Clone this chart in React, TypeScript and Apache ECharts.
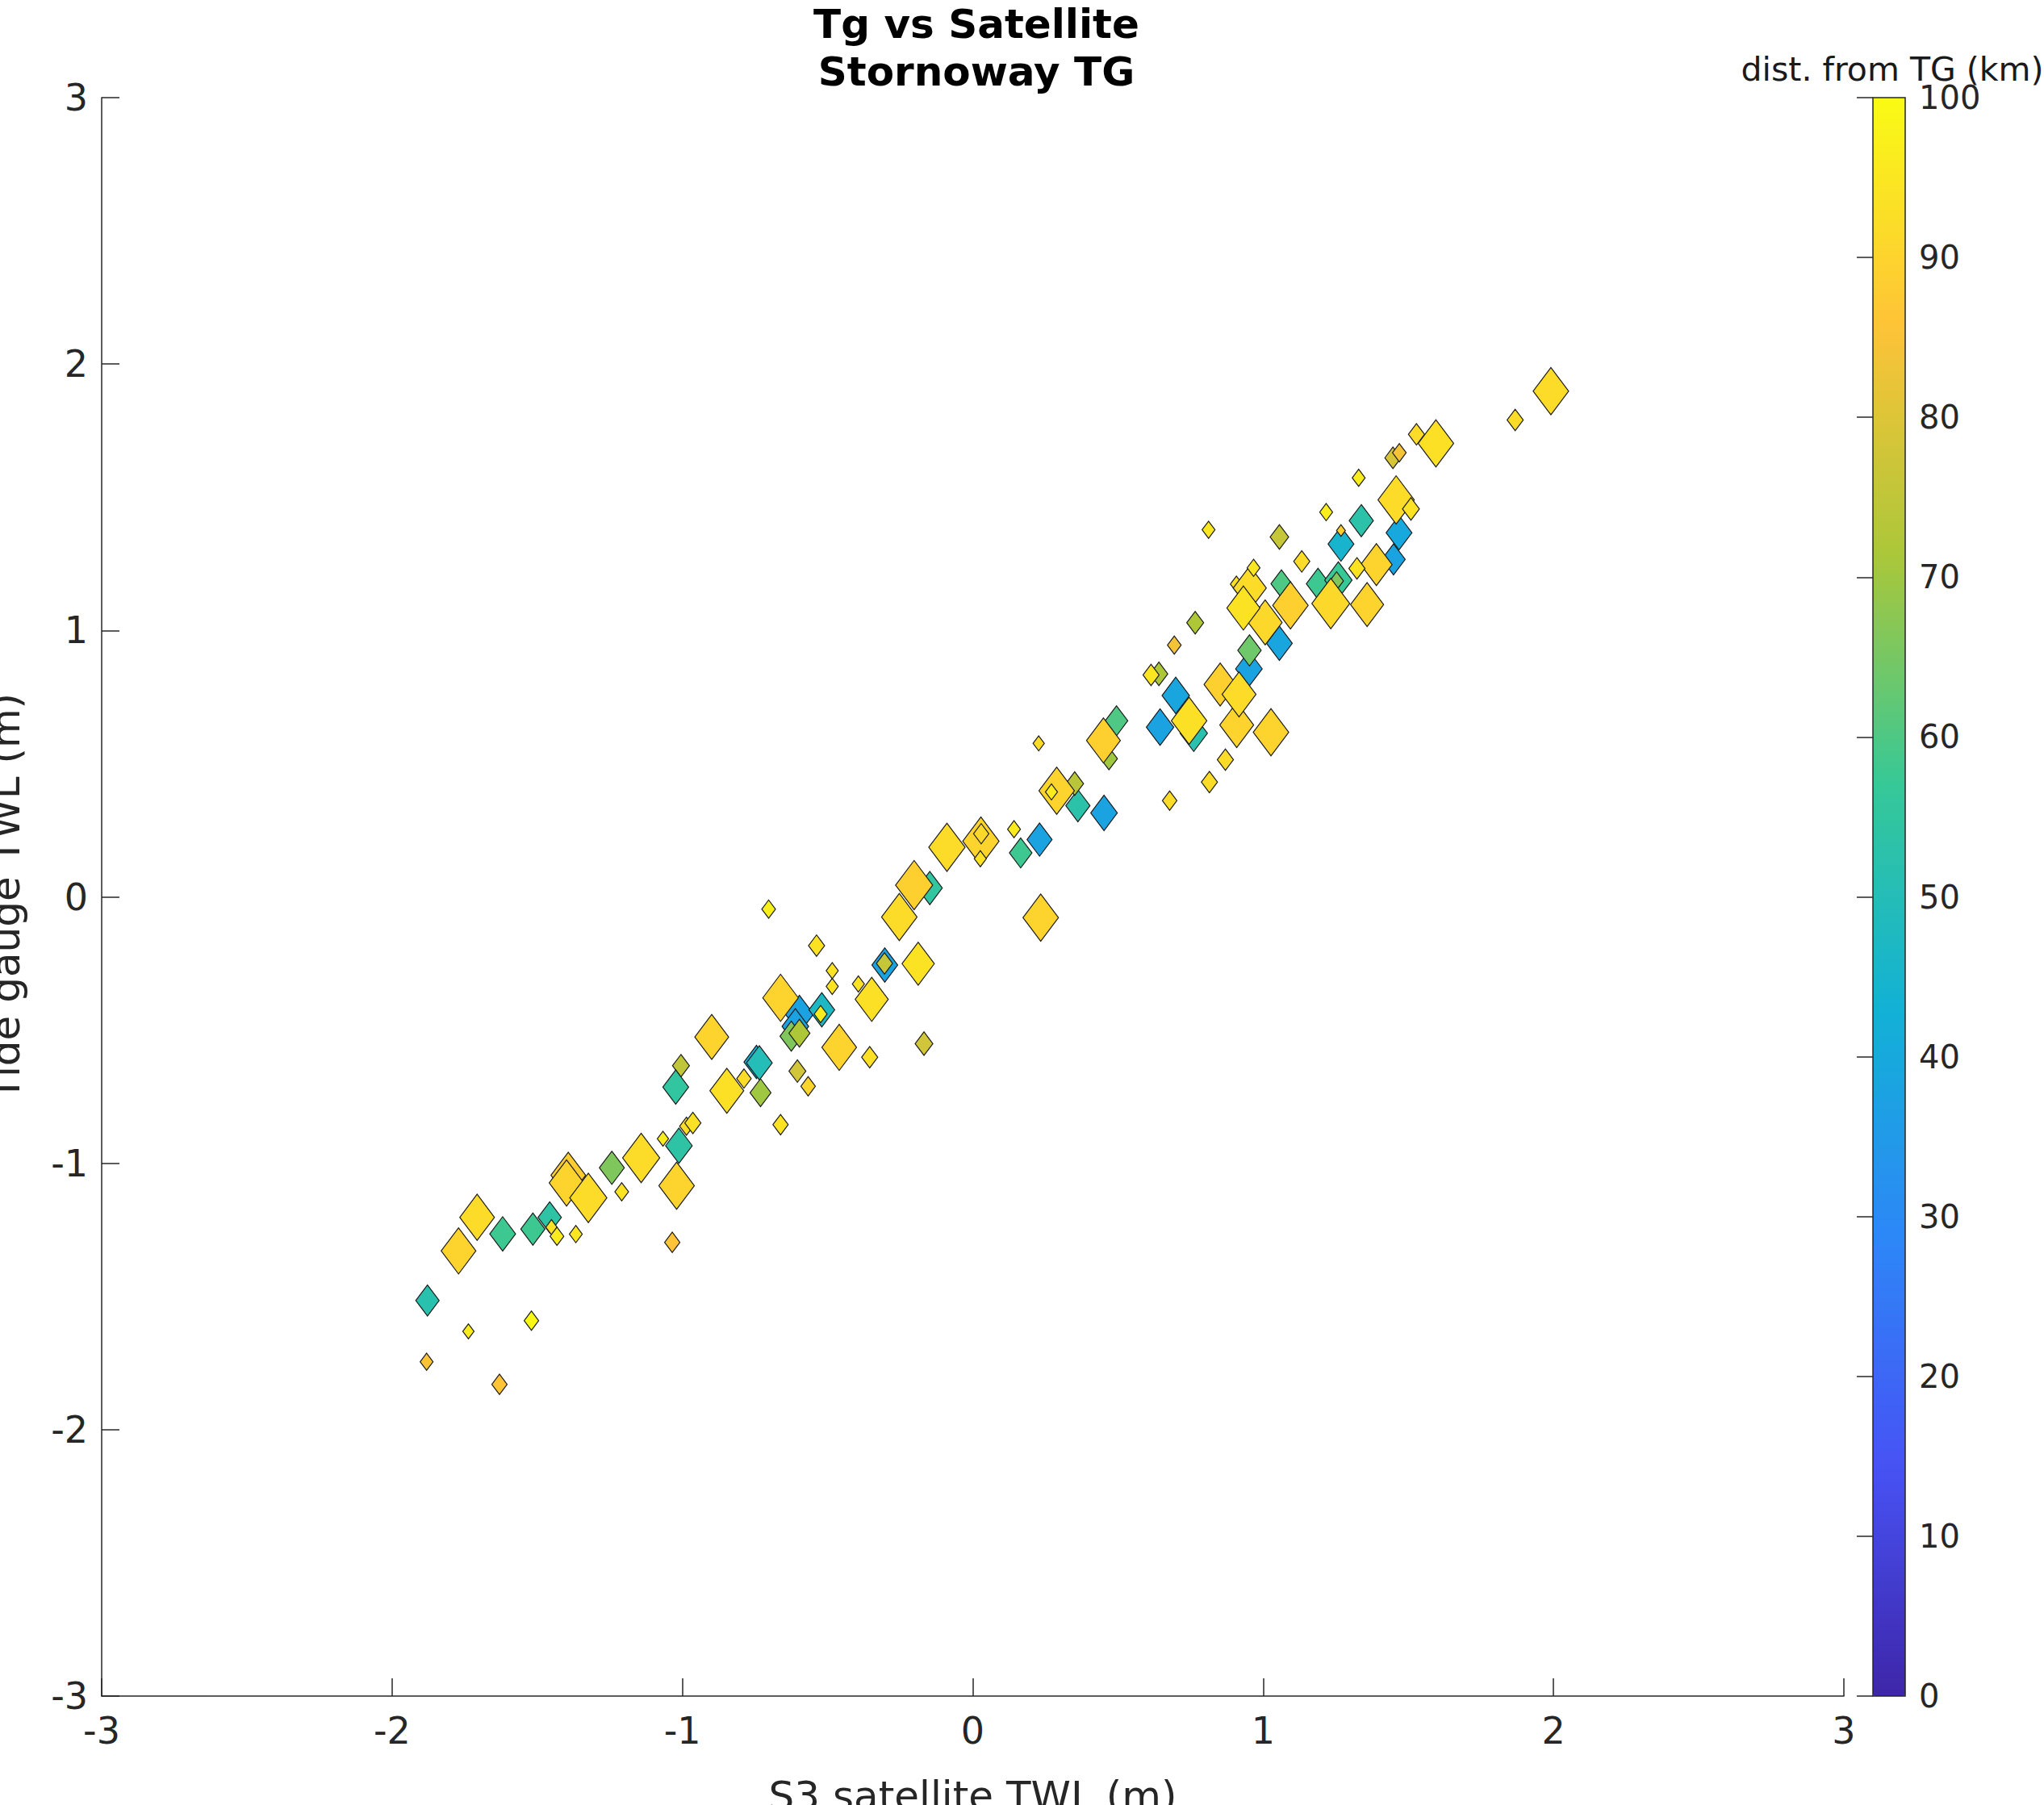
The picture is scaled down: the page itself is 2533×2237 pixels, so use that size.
import React, { useEffect, useRef } from 'react';
import * as echarts from 'echarts';

// listed in drawing order (later ones sit on top)
const s3Twl = [
  -1.878, -1.881, -1.737, -1.63, -1.52, -1.771, -1.707, -1.619, -1.515, -1.457, -1.451, -1.432, -1.367,
  -1.393, -1.399, -1.324, -1.243, -1.209, -1.142, -1.067, -1.012, -1.02, -1.035, -0.986, -0.964, -1.005,
  -1.023, -0.899, -0.847, -0.788, -0.731, -0.662, -0.745, -0.735, -0.604, -0.567, -0.597, -0.611, -0.625,
  -0.597, -0.662, -0.52, -0.524, -0.46, -0.355, -0.348, -0.394, -0.484, -0.484, -0.538, -0.703, -0.303,
  -0.304, -0.188, -0.168, -0.253, -0.148, -0.202, -0.089, 0.028, 0.029, 0.026, 0.142, 0.165, 0.23, 0.227,
  0.362, 0.351, 0.289, 0.271, 0.452, 0.234, 0.495, 0.469, 0.45, 0.645, 0.761, 0.699, 0.745, 0.678, 0.815,
  0.87, 0.909, 1.027, 0.852, 0.951, 0.953, 0.917, 0.641, 0.614, 0.694, 0.766, 0.812, 1.056, 1.133, 1.056,
  0.908, 0.954, 0.967, 1.007, 0.932, 1.063, 1.094, 1.189, 1.259, 1.253, 1.233, 1.358, 1.449, 1.468, 1.39,
  1.323, 1.268, 1.268, 1.338, 1.217, 1.458, 1.509, 1.329, 1.447, 1.469, 1.528, 1.595, 1.868, 1.991,
];
const tgTwl = [
  -1.515, -1.745, -1.631, -1.83, -1.591, -1.329, -1.203, -1.265, -1.247, -1.203, -1.24, -1.274, -1.266,
  -1.045, -1.074, -1.13, -1.017, -1.107, -0.98, -0.908, -0.934, -1.084, -1.297, -0.861, -0.849, -0.634,
  -0.714, -0.526, -0.728, -0.682, -0.735, -0.855, -0.62, -0.623, -0.654, -0.711, -0.44, -0.486, -0.523,
  -0.512, -0.379, -0.424, -0.44, -0.565, -0.602, -0.385, -0.327, -0.336, -0.277, -0.183, -0.046, -0.256,
  -0.25, -0.251, -0.551, -0.076, 0.033, 0.044, 0.186, 0.209, 0.237, 0.143, 0.254, 0.165, 0.215, 0.576,
  0.342, 0.425, 0.398, 0.394, 0.315, -0.078, 0.661, 0.519, 0.587, 0.637, 0.614, 0.756, 0.661, 0.361, 0.431,
  0.515, 0.645, 0.618, 0.797, 0.856, 0.925, 0.76, 0.837, 0.833, 0.945, 1.029, 1.378, 1.351, 1.259, 0.952,
  1.174, 1.159, 1.235, 1.03, 1.084, 1.175, 1.094, 1.175, 1.189, 1.186, 1.101, 1.097, 1.267, 1.367, 1.247,
  1.233, 1.324, 1.375, 1.412, 1.444, 1.49, 1.456, 1.573, 1.648, 1.667, 1.736, 1.702, 1.79, 1.898,
];
const distKm = [
  52, 85, 96, 86, 99, 90, 92, 58, 58, 54, 94, 96, 95,
  88, 90, 92, 66, 94, 92, 96, 54, 90, 86, 92, 93, 75,
  55, 90, 93, 92, 70, 94, 41, 50, 78, 90, 38, 38, 66,
  72, 90, 47, 96, 90, 93, 93, 94, 94, 94, 94, 97, 38,
  76, 94, 78, 92, 55, 89, 92, 90, 91, 94, 96, 58, 38, 92,
  53, 74, 90, 96, 38, 90, 60, 70, 89, 38, 52, 39, 93, 92, 92,
  92, 90, 90, 89, 38, 64, 92, 72, 95, 84, 72, 95, 76, 92, 39,
  93, 92, 95, 91, 94, 60, 89, 58, 57, 66, 91, 90, 38, 40, 90,
  94, 45, 88, 53, 97, 92, 94, 96, 79, 84, 92, 93, 92, 92,
];
// the fourth variable of the scatter, shown as the width of each diamond
const markerWidth = [
  29, 16, 14, 19, 18, 43, 43, 32, 30, 29, 14, 17, 16,
  43, 43, 46, 31, 17, 46, 14, 33, 44, 19, 17, 20, 21,
  32, 42, 42, 18, 26, 19, 31, 32, 21, 18, 35, 33, 28,
  26, 44, 32, 16, 43, 20, 41, 15, 15, 15, 20, 17, 32,
  20, 40, 22, 44, 31, 46, 45, 45, 19, 15, 16, 28, 31, 14,
  30, 22, 44, 15, 33, 44, 28, 21, 42, 34, 34, 34, 44, 18, 20,
  20, 42, 44, 40, 33, 29, 42, 22, 20, 17, 21, 16, 23, 20, 32,
  15, 41, 16, 42, 41, 26, 44, 29, 34, 17, 47, 41, 29, 32, 39,
  20, 32, 11, 30, 16, 45, 21, 16, 20, 17, 20, 44, 20, 44,
];
const axisTicks = [-3, -2, -1, 0, 1, 2, 3];
const parula = ['#3e26a8', '#4752f4', '#2d87f7', '#12b1d6', '#37c897', '#abc739', '#fec338', '#f9fb15'];

const INK = '#262626';
const FONT = '"DejaVu Sans"';
const plot = { left: 126, top: 121, width: 2159, height: 1981 };
const bar = { left: 2321, top: 121, width: 40, height: 1981 };

const App: React.FC = () => {
  const chartRef = useRef<HTMLDivElement>(null);

  useEffect(() => {
    if (!chartRef.current) return;
    const chart = echarts.init(chartRef.current, undefined, { renderer: 'svg' });

    const points = s3Twl.map((x, i) => [x, tgTwl[i], distKm[i], markerWidth[i]]);

    const valueAxis = {
      type: 'value',
      min: axisTicks[0],
      max: axisTicks[axisTicks.length - 1],
      interval: 1,
      splitLine: { show: false },
      axisLine: { onZero: false, lineStyle: { color: INK, width: 1.5 } },
      axisTick: { inside: true, length: 22, lineStyle: { color: INK, width: 1.5 } },
      nameLocation: 'middle',
      nameTextStyle: { color: INK, fontSize: 50, fontFamily: FONT },
    };

    chart.setOption({
      animation: false,
      backgroundColor: '#fff',
      title: [
        {
          text: 'Tg vs Satellite\nStornoway TG',
          left: 1205,
          top: -5,
          textAlign: 'center',
          textStyle: { color: '#000', fontSize: 50, fontWeight: 'bold', fontFamily: FONT, lineHeight: 59 },
        },
        {
          text: 'dist. from TG (km)',
          left: 2340,
          top: 60,
          textAlign: 'center',
          textStyle: { color: '#1a1a1a', fontSize: 41, fontWeight: 'normal', fontFamily: FONT },
        },
      ],
      grid: [
        { ...plot, outerBoundsMode: 'none' },
        { ...bar, outerBoundsMode: 'none' },
      ],
      xAxis: [
        {
          ...valueAxis,
          gridIndex: 0,
          name: 'S3 satellite TWL (m)',
          nameGap: 99,
          axisLabel: { color: INK, fontSize: 46, fontFamily: FONT, margin: 20 },
        },
        { type: 'value', gridIndex: 1, show: false, min: 0, max: 1 },
      ],
      yAxis: [
        {
          ...valueAxis,
          gridIndex: 0,
          name: 'Tide gauge TWL (m)',
          nameGap: 94,
          axisLabel: { color: INK, fontSize: 46, fontFamily: FONT, margin: 17 },
        },
        {
          type: 'value',
          gridIndex: 1,
          position: 'right',
          min: 0,
          max: 100,
          interval: 10,
          z: 10,
          splitLine: { show: false },
          axisLine: { show: false },
          axisTick: { inside: true, length: 20, lineStyle: { color: INK, width: 1.5 } },
          axisLabel: { color: INK, fontSize: 40, fontFamily: FONT, margin: 17 },
        },
      ],
      visualMap: {
        type: 'continuous',
        dimension: 2,
        seriesIndex: 0,
        min: 0,
        max: 100,
        calculable: false,
        orient: 'vertical',
        left: bar.left,
        top: bar.top,
        padding: 0,
        itemWidth: bar.width,
        itemHeight: bar.height,
        text: ['', ''],
        textGap: 0,
        inRange: { color: parula },
      },
      graphic: [
        {
          type: 'rect',
          z: 20,
          shape: { x: bar.left, y: bar.top, width: bar.width, height: bar.height },
          style: { fill: 'none', stroke: INK, lineWidth: 1.5 },
        },
      ],
      series: [
        {
          type: 'scatter',
          xAxisIndex: 0,
          yAxisIndex: 0,
          symbol: 'diamond',
          symbolSize: (v: number[]) => [v[3], v[3] * 1.33],
          itemStyle: { borderColor: '#1a1a1a', borderWidth: 1.2, opacity: 1 },
          data: points,
        },
      ],
    });

    return () => {
      chart.dispose();
    };
  }, []);

  return <div ref={chartRef} style={{ position: 'absolute', left: 0, top: 0, width: 2533, height: 2237 }} />;
};

export default App;
